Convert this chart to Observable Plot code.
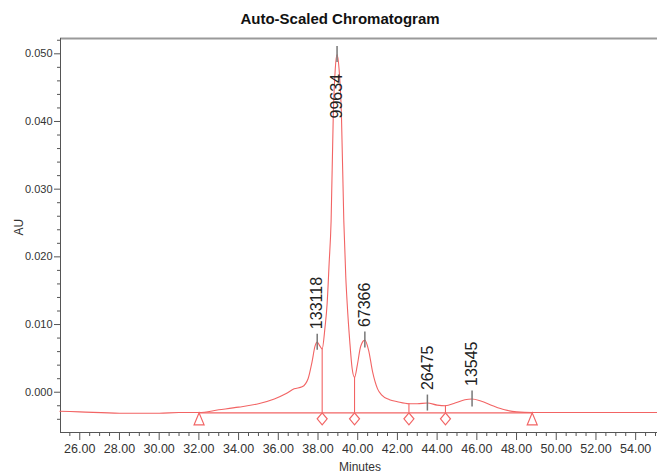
<!DOCTYPE html>
<html>
<head>
<meta charset="utf-8">
<script src="https://cdn.jsdelivr.net/npm/d3@7"></script>
<script src="https://cdn.jsdelivr.net/npm/@observablehq/plot@0.6"></script>
<style>
  html, body { margin: 0; padding: 0; background: #fff; }
  #chart svg { display: block; }
</style>
</head>
<body>
<div id="chart"></div>
<script>
// ---- Data ----
const times = [25.0, 26.0, 28.0, 30.0, 31.0, 32.0, 33.0, 34.0, 35.0, 35.8, 36.4, 36.8, 37.2, 37.5, 37.7, 37.85, 37.96, 38.1, 38.21, 38.35, 38.46, 38.56, 38.66, 38.77, 38.87, 38.96, 39.06, 39.18, 39.30, 39.40, 39.47, 39.6, 39.72, 39.84, 39.98, 40.15, 40.36, 40.55, 40.75, 41.0, 41.2, 41.6, 42.0, 42.58, 43.0, 43.51, 44.0, 44.42, 44.9, 45.4, 45.76, 46.2, 46.8, 47.4, 48.0, 48.79, 50.0, 52.0, 54.0, 55.1];
const absorbance = [-0.0028, -0.0029, -0.0031, -0.0031, -0.0030, -0.0030, -0.0026, -0.0022, -0.0017, -0.0010, -0.0002, 0.0005, 0.0008, 0.0020, 0.0045, 0.0068, 0.0074, 0.0068, 0.0064, 0.0095, 0.0131, 0.0190, 0.0253, 0.0410, 0.0478, 0.0499, 0.0478, 0.0410, 0.0253, 0.0170, 0.0131, 0.0075, 0.0035, 0.0022, 0.0040, 0.0068, 0.0077, 0.0062, 0.0030, 0.0005, -0.0004, -0.0011, -0.0014, -0.0017, -0.0017, -0.0016, -0.0019, -0.0020, -0.0016, -0.0011, -0.0010, -0.0013, -0.0020, -0.0026, -0.0029, -0.0030, -0.0030, -0.0030, -0.0030, -0.0030];

const peakLabels = ["133118", "99634", "67366", "26475", "13545"];
const peakTimes = [37.96, 38.96, 40.36, 43.51, 45.76];
const peakHeights = [0.0074, 0.0499, 0.0077, -0.0016, -0.0010];

const valleyTimes = [38.21, 39.84, 42.58, 44.42];
const valleyHeights = [0.0064, 0.0022, -0.0017, -0.0020];

const baselineTimes = [32.01, 48.79];
const baselineLevel = -0.00305;

const xTickValues = [26, 28, 30, 32, 34, 36, 38, 40, 42, 44, 46, 48, 50, 52, 54];
const xTickLabels = ["26.00", "28.00", "30.00", "32.00", "34.00", "36.00", "38.00", "40.00", "42.00", "44.00", "46.00", "48.00", "50.00", "52.00", "54.00"];
const yTickValues = [0, 0.01, 0.02, 0.03, 0.04, 0.05];
const yTickLabels = ["0.000", "0.010", "0.020", "0.030", "0.040", "0.050"];

const titleText = "Auto-Scaled Chromatogram";
const xLabel = "Minutes";
const yLabel = "AU";

// ---- Tables built from the arrays ----
const signal = times.map((t, i) => ({t, v: absorbance[i]}));
const peaks = peakLabels.map((label, i) => ({label, t: peakTimes[i], v: peakHeights[i]}));
const valleys = valleyTimes.map((t, i) => ({t, v: valleyHeights[i]}));
const baseline = baselineTimes.map(t => ({t, v: baselineLevel}));

const xDomain = [25.03, 55.10];
const yDomain = [-0.00595, 0.05226];
const xMinor = d3.range(25.5, 55.01, 0.5).filter(v => !xTickValues.includes(v));
const yMinor = d3.range(-0.004, 0.0521, 0.002).map(v => +v.toFixed(3)).filter(v => !yTickValues.some(w => Math.abs(w - v) < 1e-9));

const RED = "#f26464";
const narrow = "'Liberation Sans Narrow', 'Arial Narrow', 'Liberation Sans', Arial, sans-serif";
const sans = "'Liberation Sans', Arial, sans-serif";

// custom marker shapes drawn below the baseline point
const triSym = {draw(ctx) { ctx.moveTo(0, 0); ctx.lineTo(5, 12); ctx.lineTo(-5, 12); ctx.closePath(); }};
const diaSym = {draw(ctx) { ctx.moveTo(0, 0); ctx.lineTo(5, 6); ctx.lineTo(0, 12); ctx.lineTo(-5, 6); ctx.closePath(); }};

const chart = Plot.plot({
  width: 657,
  height: 474,
  marginLeft: 60,
  marginRight: 0,
  marginTop: 38,
  marginBottom: 42,
  x: {domain: xDomain},
  y: {domain: yDomain},
  style: {background: "#fff", overflow: "visible"},
  marks: [
    // frame lines
    Plot.ruleY([yDomain[1]], {stroke: "#9a9a9a", strokeWidth: 2}),
    Plot.ruleX([xDomain[0]], {stroke: "#555", strokeWidth: 1}),
    Plot.ruleY([yDomain[0]], {stroke: "#555", strokeWidth: 1}),
    // y axis
    Plot.axisY(yTickValues, {tickSize: 6, tickPadding: 2, tickFormat: (d, i) => yTickLabels[i], fontSize: 11, fontFamily: sans, fill: "#333", stroke: "#555", label: null}),
    Plot.axisY(yMinor, {tickSize: 3, tickFormat: () => "", stroke: "#555", label: null}),
    // x axis
    Plot.axisX(xTickValues, {tickSize: 8, tickPadding: 4, tickFormat: (d, i) => xTickLabels[i], fontSize: 12.5, fontFamily: narrow, fill: "#333", stroke: "#555", label: null}),
    Plot.axisX(xMinor, {tickSize: 4, tickFormat: () => "", stroke: "#555", label: null}),
    // integration baseline and drop lines
    Plot.line(baseline, {x: "t", y: "v", stroke: RED, strokeWidth: 1.1}),
    Plot.ruleX(valleys, {x: "t", y1: "v", y2: baselineLevel, stroke: RED, strokeWidth: 1.1}),
    // signal
    Plot.line(signal, {x: "t", y: "v", stroke: RED, strokeWidth: 1.1, curve: "monotone-x"}),
    // markers
    Plot.dot(baseline, {x: "t", y: "v", symbol: triSym, r: 5, stroke: RED, fill: "white", strokeWidth: 1.2}),
    Plot.dot(valleys, {x: "t", y: () => baselineLevel, symbol: diaSym, r: 5, stroke: RED, fill: "white", strokeWidth: 1.2}),
    // peak ticks
    Plot.ruleX(peaks, {x: "t", y1: "v", y2: "v", insetTop: -8, insetBottom: -8, stroke: "#777", strokeWidth: 1.5}),
    // peak labels
    Plot.text(peaks.filter((d, i) => i !== 1), {x: "t", y: "v", text: "label", rotate: -90, textAnchor: "start", dy: -13, fontSize: 16, fontFamily: sans, fill: "#222"}),
    Plot.text(peaks.filter((d, i) => i === 1), {x: "t", y: "v", text: "label", rotate: -90, textAnchor: "start", dy: 64, fontSize: 16, fontFamily: sans, fill: "#222"}),
    // titles
    Plot.text([titleText], {frameAnchor: "top", dx: -19, dy: -15, lineAnchor: "bottom", fontSize: 15, fontWeight: "bold", fontFamily: narrow, fill: "#111"}),
    Plot.text([yLabel], {frameAnchor: "left", dx: -41, rotate: -90, fontSize: 12, fontFamily: sans, fill: "#333"}),
    Plot.text([xLabel], {frameAnchor: "bottom", dx: 1, dy: 30, lineAnchor: "top", fontSize: 12, fontFamily: narrow, fill: "#333"})
  ]
});
document.getElementById("chart").appendChild(chart);
</script>
</body>
</html>
